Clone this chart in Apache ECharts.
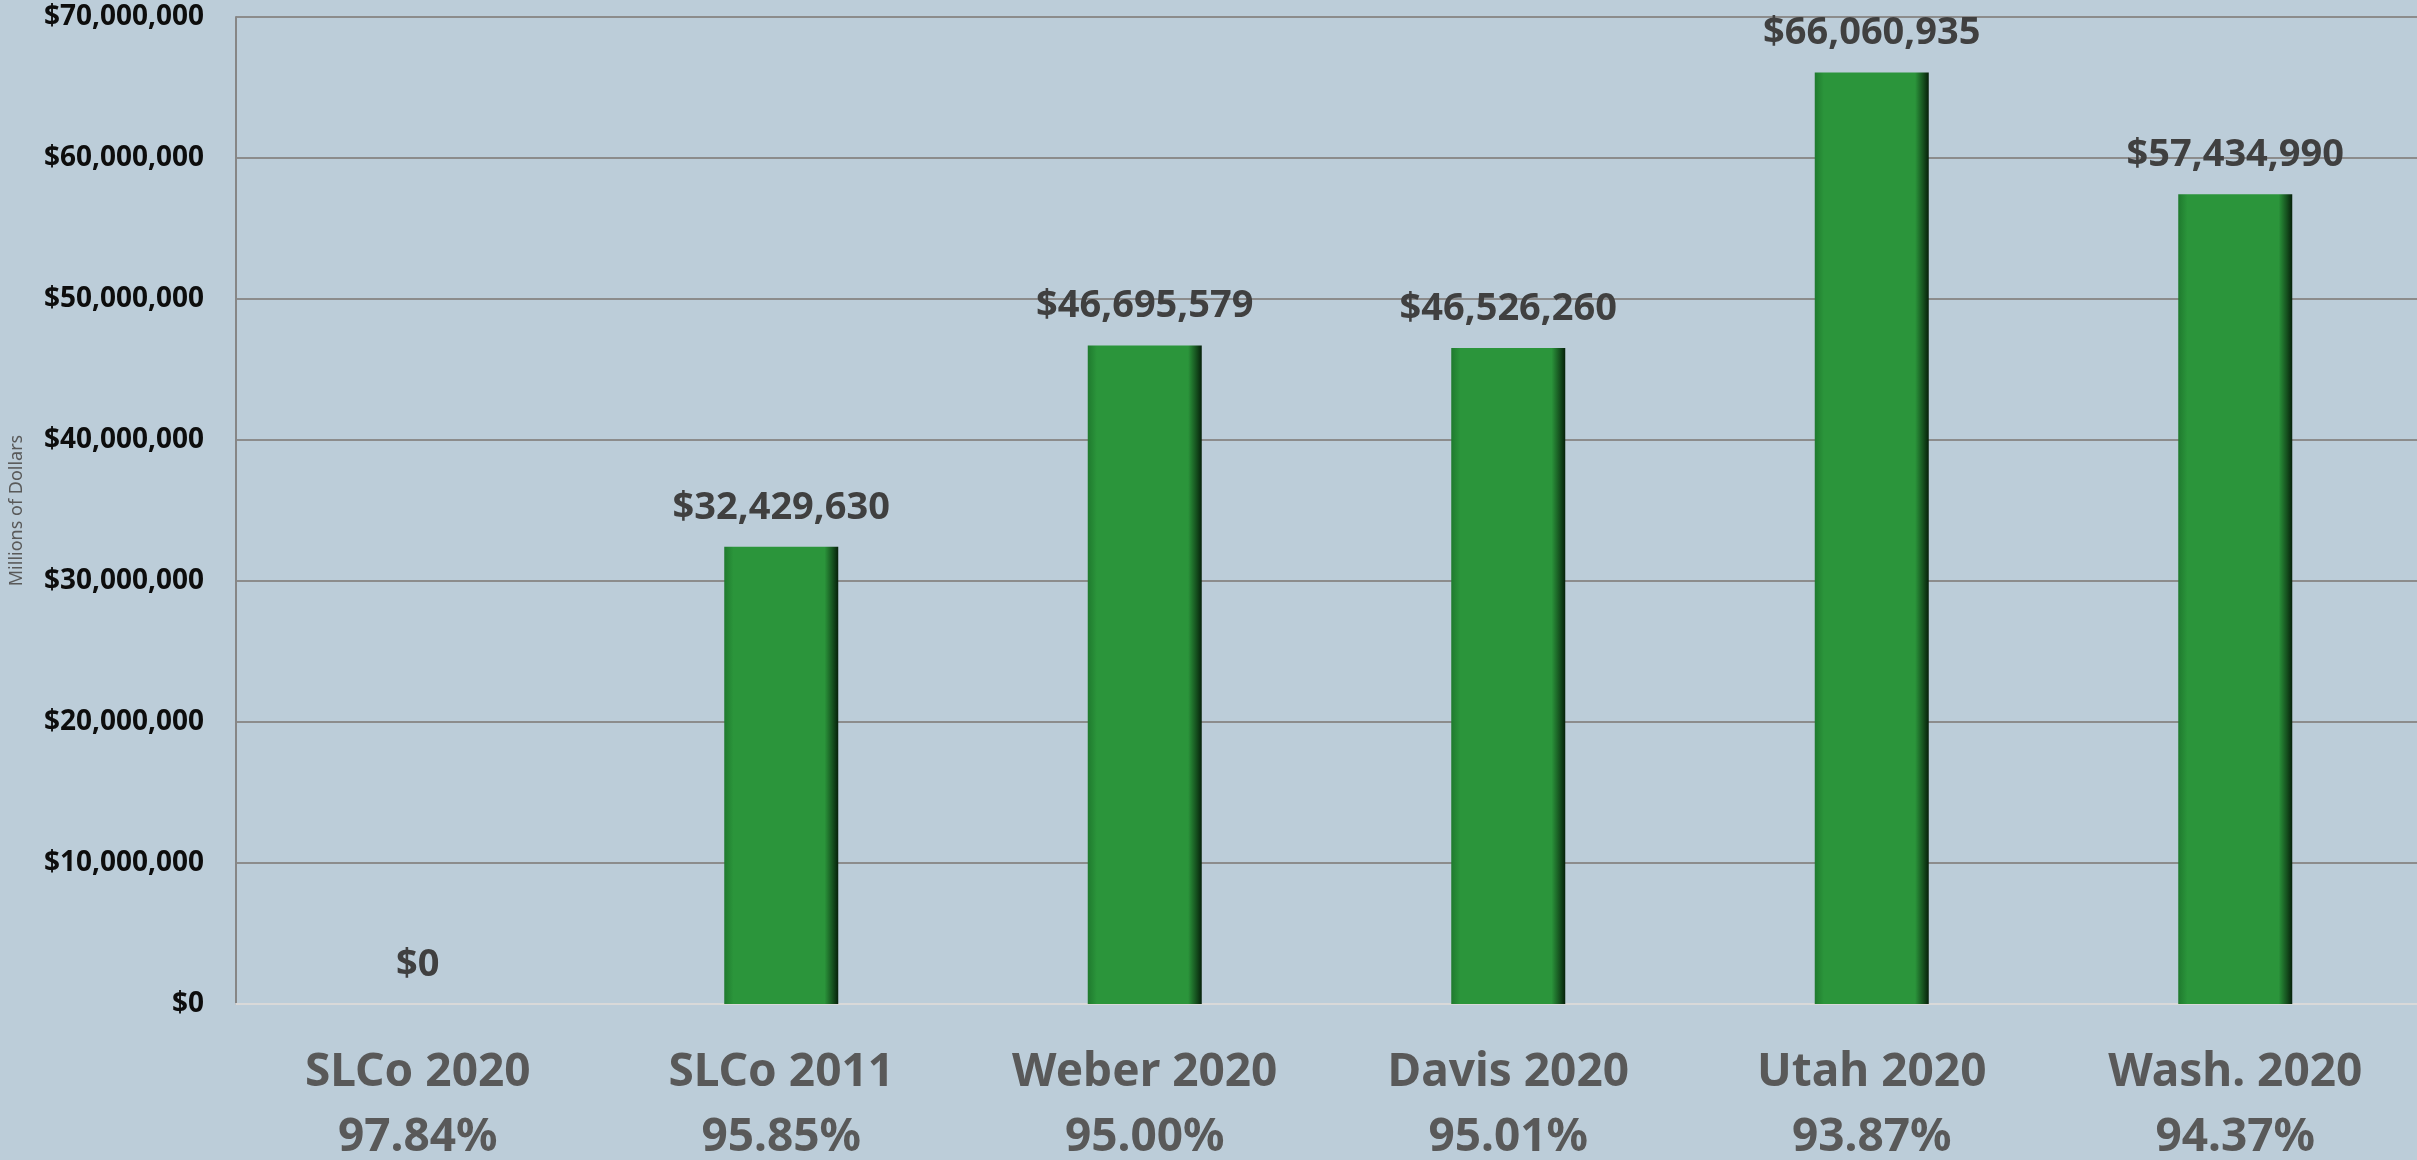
<!DOCTYPE html>
<html>
<head>
<meta charset="utf-8">
<script src="https://cdn.jsdelivr.net/npm/echarts@6/dist/echarts.min.js"></script>
<style>
  html, body { margin: 0; padding: 0; background: #bccdd9; }
  #chart { width: 2417px; height: 1160px; }
</style>
</head>
<body>
<div id="chart"></div>
<script>
// 数据
const counties = ['SLCo 2020', 'SLCo 2011', 'Weber 2020', 'Davis 2020', 'Utah 2020', 'Wash. 2020'];
const rates = ['97.84%', '95.85%', '95.00%', '95.01%', '93.87%', '94.37%'];
const amounts = [0, 32429630, 46695579, 46526260, 66060935, 57434990];

function money(v) {
    return '$' + Math.round(v).toLocaleString('en-US');
}

const chart = echarts.init(document.getElementById('chart'));

const option = {
    backgroundColor: '#bccdd9',
    animation: false,
    grid: { left: 236, right: 0, top: 17, bottom: 156, outerBoundsMode: 'none', containLabel: false },
    xAxis: {
        type: 'category',
        data: counties.map((c, i) => c + '\n' + rates[i]),
        axisLine: { lineStyle: { color: '#d9d9d9', width: 2 } },
        axisTick: { show: false },
        axisLabel: {
            margin: 36,
            fontFamily: 'Noto Sans',
            fontWeight: 'bold',
            fontSize: 46,
            lineHeight: 65,
            color: '#595959'
        }
    },
    yAxis: {
        type: 'value',
        min: 0,
        max: 70000000,
        interval: 10000000,
        name: 'Millions of Dollars',
        nameLocation: 'middle',
        nameGap: 210,
        nameTextStyle: { fontFamily: 'Noto Sans', fontSize: 18, color: '#595959' },
        axisLine: { show: true, lineStyle: { color: '#868686', width: 2 } },
        axisTick: { show: false },
        splitLine: { lineStyle: { color: '#8c8c8c', width: 2 } },
        axisLabel: {
            margin: 32,
            fontFamily: 'Noto Sans',
            fontWeight: 'bold',
            fontSize: 28,
            color: '#0d0d0d',
            formatter: money
        }
    },
    series: [{
        type: 'bar',
        data: amounts,
        barWidth: 114,
        itemStyle: {
            color: new echarts.graphic.LinearGradient(0, 0, 1, 0, [
                { offset: 0, color: '#1f7a2e' },
                { offset: 0.08, color: '#2b953b' },
                { offset: 0.88, color: '#2b953b' },
                { offset: 0.95, color: '#16521f' },
                { offset: 1, color: '#06200a' }
            ]),
            borderWidth: 0
        },
        label: {
            show: true,
            position: 'top',
            distance: 20,
            fontFamily: 'Noto Sans',
            fontWeight: 'bold',
            fontSize: 38,
            color: '#404040',
            formatter: p => money(p.value)
        }
    }]
};

chart.setOption(option);
</script>
</body>
</html>
